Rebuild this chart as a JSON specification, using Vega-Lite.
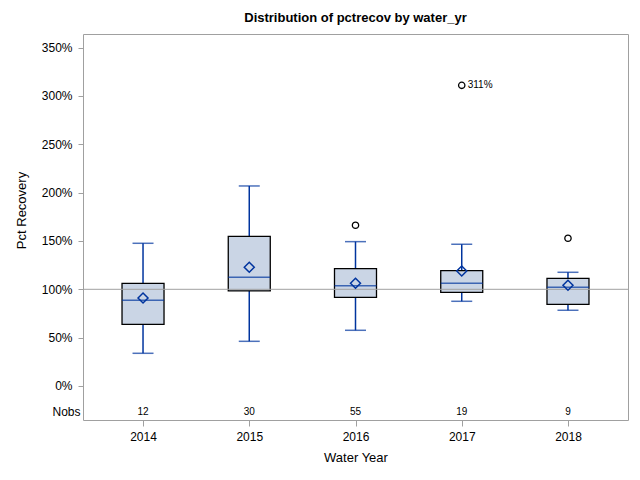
{
  "$schema": "https://vega.github.io/schema/vega-lite/v6.json",
  "width": 545,
  "height": 386,
  "autosize": "none",
  "padding": {"left": 83, "top": 34, "right": 12, "bottom": 60},
  "background": "white",
  "title": {"text": "Distribution of pctrecov by water_yr", "fontSize": 13, "fontWeight": "bold", "color": "black", "anchor": "middle", "offset": 9},
  "config": {
    "font": "Liberation Sans",
    "view": {"stroke": "#A0A0A0", "strokeWidth": 1}
  },
  "datasets": {
    "boxes": [
      {"year": "2014", "lo": 33.8, "q1": 63.8, "median": 88.6, "mean": 91.0, "q3": 106.2, "hi": 147.6, "n": 12},
      {"year": "2015", "lo": 46.2, "q1": 98.3, "median": 112.4, "mean": 122.8, "q3": 154.8, "hi": 206.9, "n": 30},
      {"year": "2016", "lo": 57.6, "q1": 91.7, "median": 103.8, "mean": 106.2, "q3": 121.4, "hi": 149.3, "n": 55},
      {"year": "2017", "lo": 87.6, "q1": 96.9, "median": 106.2, "mean": 119.0, "q3": 119.3, "hi": 146.6, "n": 19},
      {"year": "2018", "lo": 78.3, "q1": 84.5, "median": 102.1, "mean": 104.2, "q3": 111.4, "hi": 117.6, "n": 9}
    ],
    "outliers": [
      {"year": "2016", "value": 166.2, "label": ""},
      {"year": "2017", "value": 311.0, "label": "311%"},
      {"year": "2018", "value": 152.8, "label": ""}
    ]
  },
  "layer": [
    {
      "encoding": {
        "x": {
          "field": "year",
          "type": "ordinal",
          "title": "Water Year",
          "scale": {"type": "point", "padding": 0.565},
          "axis": {
            "labelAngle": 0,
            "domain": false,
            "tickColor": "#A0A0A0",
            "tickSize": 6,
            "labelPadding": 5,
            "labelFontSize": 12,
            "labelColor": "black",
            "titleFontSize": 13,
            "titleFontWeight": "normal",
            "titleColor": "black",
            "titlePadding": 9
          }
        }
      },
      "layer": [
        {
          "data": {"name": "boxes"},
          "mark": {"type": "rule", "color": "#00349E", "strokeWidth": 1.5},
          "encoding": {
            "y": {
              "field": "lo",
              "type": "quantitative",
              "title": "Pct Recovery",
              "scale": {"domain": [-35.2, 364.1], "nice": false, "zero": false},
              "axis": {
                "values": [-26.6, 0, 50, 100, 150, 200, 250, 300, 350],
                "labelExpr": "datum.value < -10 ? 'Nobs' : datum.value + '%'",
                "grid": false,
                "domain": false,
                "tickColor": "#A0A0A0",
                "tickSize": 5,
                "tickOpacity": {"condition": {"test": "datum.value < -10", "value": 0}, "value": 1},
                "labelPadding": {"condition": {"test": "datum.value < -10", "value": -2}, "value": 6},
                "labelFontSize": 12,
                "labelColor": "black",
                "titleFontSize": 13,
                "titleFontWeight": "normal",
                "titleColor": "black",
                "titleY": 176,
                "titlePadding": 13
              }
            },
            "y2": {"field": "hi"}
          }
        },
        {
          "data": {"name": "boxes"},
          "mark": {"type": "bar", "size": 42, "fill": "#CAD5E5", "stroke": "black", "strokeWidth": 1.3},
          "encoding": {
            "y": {"field": "q1", "type": "quantitative"},
            "y2": {"field": "q3"}
          }
        }
      ]
    },
    {
      "data": {"values": [{"ref": 100}]},
      "mark": {"type": "rule", "color": "#A0A0A0", "strokeWidth": 1},
      "encoding": {
        "y": {"field": "ref", "type": "quantitative"}
      }
    },
    {
      "encoding": {
        "x": {"field": "year", "type": "ordinal"}
      },
      "layer": [
        {
          "data": {"name": "boxes"},
          "mark": {"type": "tick", "size": 42, "thickness": 1.5, "color": "#00349E"},
          "encoding": {
            "y": {"field": "median", "type": "quantitative"}
          }
        },
        {
          "data": {"name": "boxes"},
          "mark": {"type": "tick", "size": 21, "thickness": 1.5, "color": "#00349E"},
          "encoding": {
            "y": {"field": "lo", "type": "quantitative"}
          }
        },
        {
          "data": {"name": "boxes"},
          "mark": {"type": "tick", "size": 21, "thickness": 1.5, "color": "#00349E"},
          "encoding": {
            "y": {"field": "hi", "type": "quantitative"}
          }
        },
        {
          "data": {"name": "boxes"},
          "mark": {"type": "point", "shape": "diamond", "filled": false, "size": 100, "color": "#00349E", "strokeWidth": 1.5, "opacity": 1},
          "encoding": {
            "y": {"field": "mean", "type": "quantitative"}
          }
        },
        {
          "data": {"name": "outliers"},
          "mark": {"type": "point", "shape": "circle", "filled": false, "size": 40, "color": "black", "strokeWidth": 1.3, "opacity": 1},
          "encoding": {
            "y": {"field": "value", "type": "quantitative"}
          }
        },
        {
          "data": {"name": "outliers"},
          "transform": [{"filter": "datum.label != ''"}],
          "mark": {"type": "text", "align": "left", "baseline": "middle", "dx": 6, "fontSize": 10, "color": "black"},
          "encoding": {
            "y": {"field": "value", "type": "quantitative"},
            "text": {"field": "label"}
          }
        },
        {
          "data": {"name": "boxes"},
          "mark": {"type": "text", "align": "center", "baseline": "middle", "fontSize": 10, "color": "black"},
          "encoding": {
            "y": {"datum": -26.6},
            "text": {"field": "n", "type": "quantitative"}
          }
        }
      ]
    }
  ]
}
